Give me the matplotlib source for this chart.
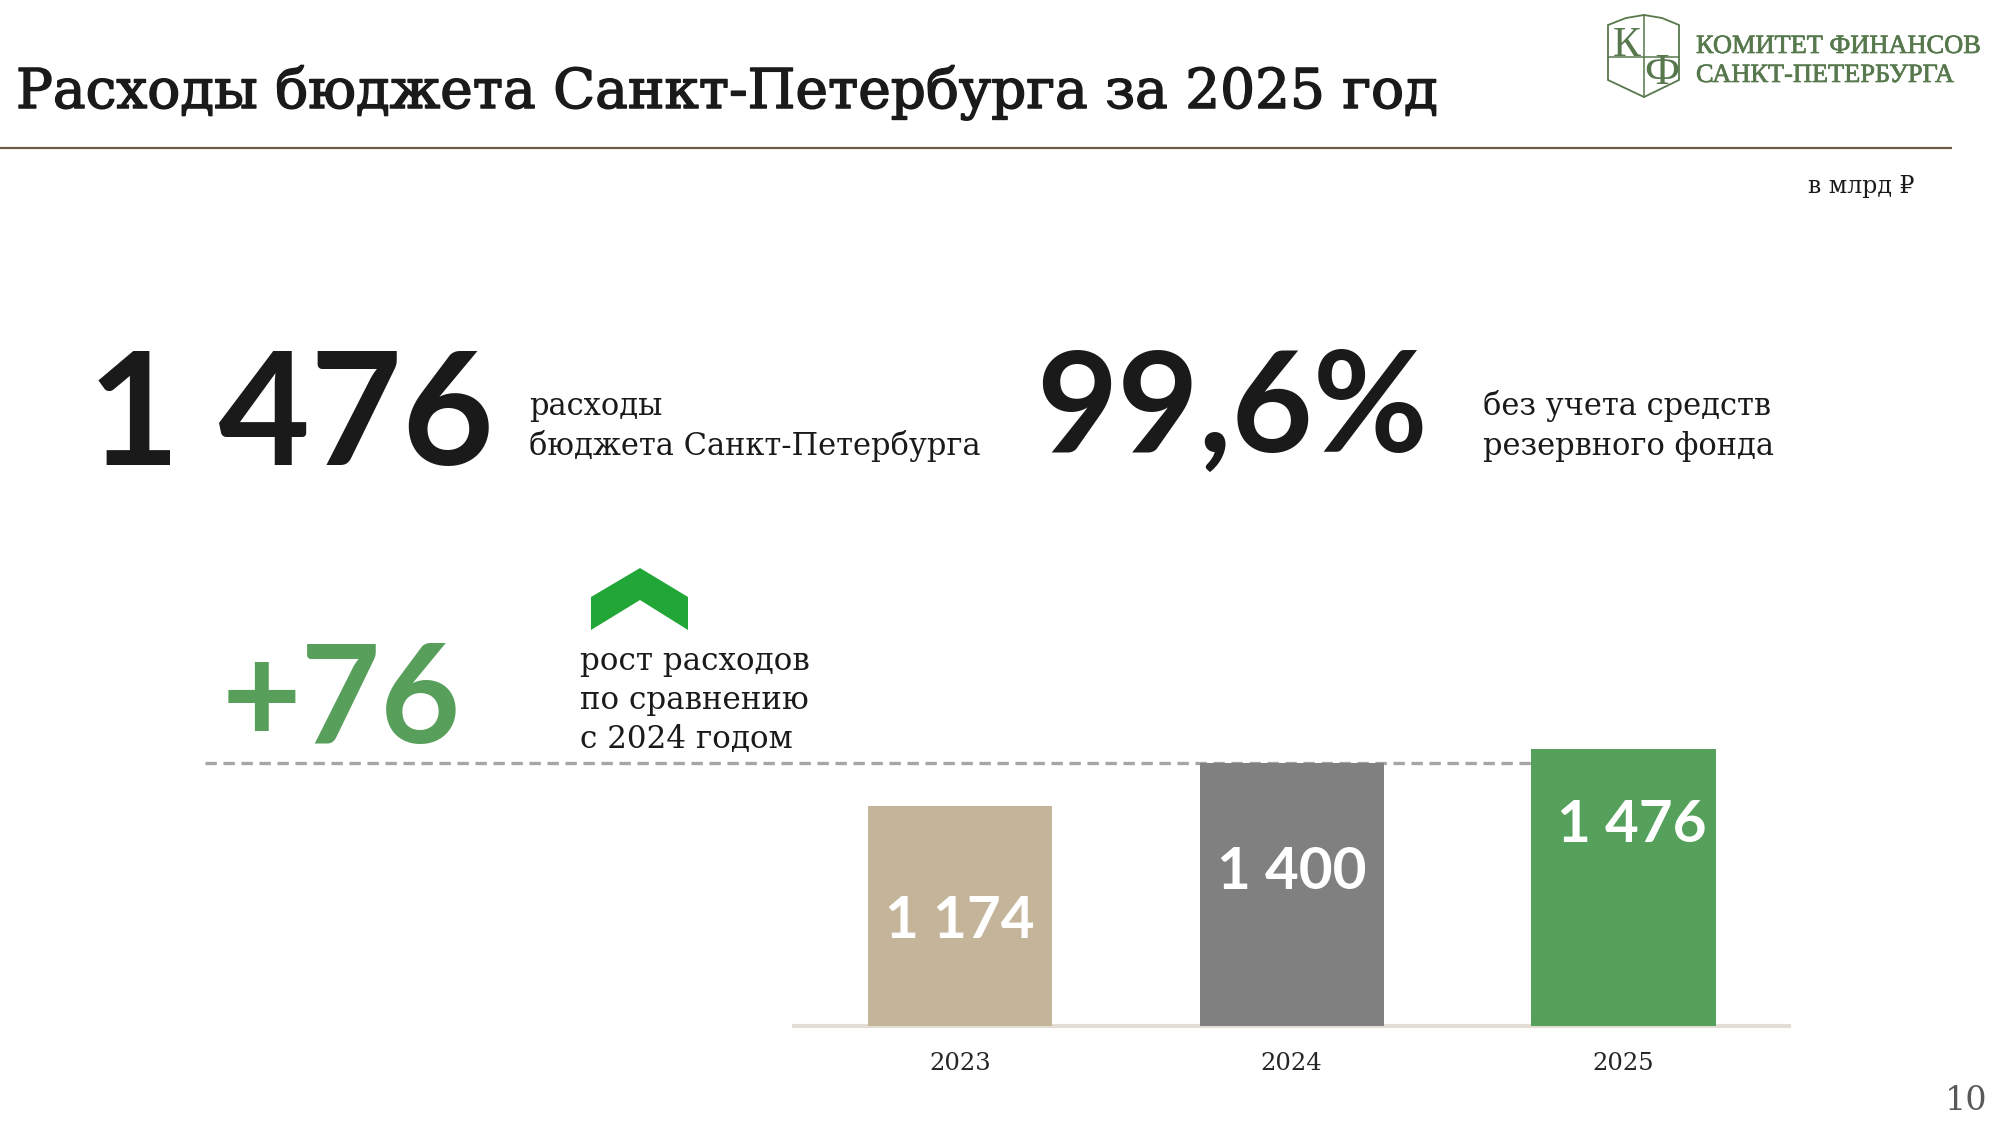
import matplotlib
matplotlib.use('Agg')
import matplotlib.pyplot as plt
import matplotlib.patheffects as pe
from matplotlib.patches import Polygon
from matplotlib.transforms import blended_transform_factory

# ---------------- data ----------------
years = ['2023', '2024', '2025']
spending = [1174, 1400, 1476]
bar_labels = ['1 174', '1 400', '1 476']
total_label = '1 476'
share_label = '99,6%'
growth_label = '+76'
title = 'Расходы бюджета Санкт-Петербурга за 2025 год'
total_caption = ['расходы', 'бюджета Санкт-Петербурга']
share_caption = ['без учета средств', 'резервного фонда']
growth_caption = ['рост расходов', 'по сравнению', 'с 2024 годом']
logo_lines = ['КОМИТЕТ ФИНАНСОВ', 'САНКТ-ПЕТЕРБУРГА']
unit_label = 'в млрд ₽'
page_number = '10'

# ---------------- style ----------------
bar_colors = ['#c4b49a', '#808080', '#55a05b']
label_offsets = [615, 585, 411]      # label centre below bar top (value units)
label_dx = [0.0, 0.0, 0.024]
SERIF = ['DejaVu Serif', 'DejaVu Sans']
LOGO_SERIF = ['Liberation Serif', 'DejaVu Serif']
NUM = ['Lato', 'DejaVu Sans']
DARK = '#1a1a1a'
LOGO_GREEN = '#56784c'

W, H = 2000, 1125
fig = plt.figure(figsize=(20, 11.25), dpi=100)
fig.patch.set_facecolor('white')

bg = fig.add_axes([0, 0, 1, 1])
bg.set_xlim(0, W)
bg.set_ylim(H, 0)
bg.axis('off')
bg.set_zorder(0)

# title and rule
bg.text(16, 108, title, fontsize=39.5, family=SERIF, color=DARK, va='baseline', ha='left',
        path_effects=[pe.withStroke(linewidth=1.1, foreground=DARK)])
bg.plot([0, 1952], [148, 148], color='#6b5c48', lw=1.6, solid_capstyle='butt')

# logo
shield = Polygon([(1608, 25), (1626, 18), (1644, 15), (1662, 18), (1679, 25),
                  (1679, 80), (1644, 97), (1608, 80)], closed=True,
                 fill=False, edgecolor=LOGO_GREEN, lw=1.3)
bg.add_patch(shield)
bg.plot([1644, 1644], [15, 97], color=LOGO_GREEN, lw=1.1)
bg.plot([1608, 1679], [57, 57], color=LOGO_GREEN, lw=1.1)
bg.text(1627, 56, 'К', fontsize=30, family=LOGO_SERIF, color=LOGO_GREEN, ha='center', va='baseline')
bg.text(1662, 84, 'Ф', fontsize=32, family=LOGO_SERIF, color=LOGO_GREEN, ha='center', va='baseline')
bg.text(1696, 53, logo_lines[0], fontsize=19, family=LOGO_SERIF, color=LOGO_GREEN, va='baseline',
        path_effects=[pe.withStroke(linewidth=0.5, foreground=LOGO_GREEN)])
bg.text(1696, 82, logo_lines[1], fontsize=19, family=LOGO_SERIF, color=LOGO_GREEN, va='baseline',
        path_effects=[pe.withStroke(linewidth=0.5, foreground=LOGO_GREEN)])

# unit
bg.text(1914, 193, unit_label, fontsize=17, family=SERIF, color=DARK, ha='right', va='baseline')

# headline numbers
bg.text(88, 465, total_label, fontsize=114, family=NUM, weight='bold', color=DARK, va='baseline')
bg.text(529, 415, total_caption[0], fontsize=22, family=SERIF, color=DARK, va='baseline')
bg.text(529, 455, total_caption[1], fontsize=22, family=SERIF, color=DARK, va='baseline')

bg.text(1036, 452, share_label, fontsize=101, family=NUM, weight='bold', color=DARK, va='baseline')
bg.text(1483, 415, share_caption[0], fontsize=22, family=SERIF, color=DARK, va='baseline')
bg.text(1483, 455, share_caption[1], fontsize=22, family=SERIF, color=DARK, va='baseline')

# growth block
bg.text(222, 743, growth_label, fontsize=99, family=NUM, weight='bold', color='#589f5c', va='baseline')
arrow = Polygon([(591, 597), (640, 568), (688, 597), (688, 630), (640, 600), (591, 630)],
                closed=True, facecolor='#21a637', edgecolor='none')
bg.add_patch(arrow)
for txt, yb in zip(growth_caption, [670, 709, 748]):
    bg.text(580, yb, txt, fontsize=22.3, family=SERIF, color=DARK, va='baseline')

# page number
bg.text(1988, 1110, page_number, fontsize=24, family=SERIF, color='#595959', ha='right', va='baseline')

# ---------------- bar chart ----------------
ax = fig.add_axes([794 / W, (H - 1026) / H, 995.4 / W, 300.5 / H])
ax.set_zorder(2)
ax.patch.set_visible(False)
x = list(range(len(years)))
ax.bar(x, spending, width=0.555, color=bar_colors, zorder=3)
ax.set_xlim(-0.5, 2.5)
ax.set_ylim(0, 1600)
for s in ax.spines.values():
    s.set_visible(False)
ax.set_yticks([])
ax.set_xticks(x)
ax.set_xticklabels(years, fontsize=17.5, family=SERIF, color='#262626')
ax.tick_params(axis='x', length=0, pad=19)
ax.axhline(0, color='#e3ddd5', lw=3, zorder=2, clip_on=False)

# dashed reference line at 2024 level
tr = blended_transform_factory(fig.transFigure, ax.transData)
ax.plot([205 / W, 1540 / W], [spending[1], spending[1]], transform=tr, color='#a6a6a6',
        lw=2.4, linestyle=(0, (3.4, 2.0)), clip_on=False, zorder=1)

for xi, v, lab, off, dx in zip(x, spending, bar_labels, label_offsets, label_dx):
    ax.text(xi + dx, v - off, lab, ha='center', va='center', fontsize=42,
            family=NUM, weight='bold', color='white', zorder=4)

fig.savefig('out.png', dpi=100, facecolor='white')
